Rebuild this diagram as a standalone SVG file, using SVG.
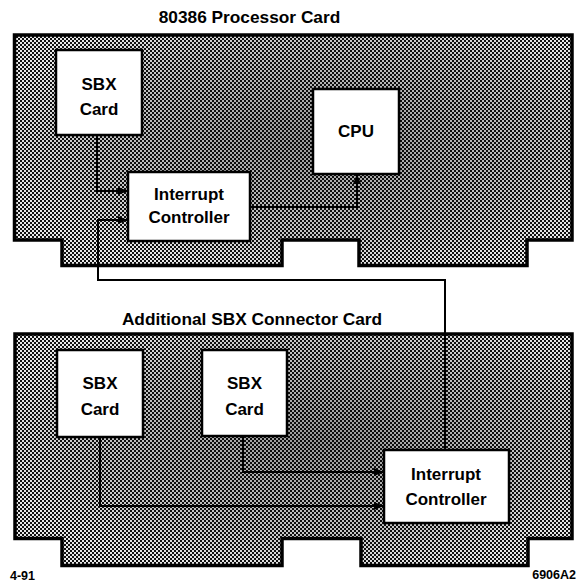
<svg xmlns="http://www.w3.org/2000/svg" width="577" height="582" viewBox="0 0 577 582">
  <style>
    .label { font-family: "Liberation Sans", Arial, sans-serif; font-weight: bold; font-size: 17px; fill: #000; text-anchor: middle; }
    .title { font-family: "Liberation Sans", Arial, sans-serif; font-weight: bold; font-size: 17.3px; fill: #000; text-anchor: middle; }
    .note { font-family: "Liberation Sans", Arial, sans-serif; font-weight: bold; font-size: 12.5px; fill: #000; }
    .board { stroke: #000; stroke-width: 3.5; stroke-linejoin: miter; }
    .box { fill: #fff; stroke: #000; stroke-width: 2.5; }
    .wire { fill: none; stroke: #000; stroke-width: 2; }
    .arrow { marker-end: url(#head); }
  </style>
  <defs>
    <!-- halftone screen used on the circuit boards -->
    <pattern id="dots" width="4" height="4" patternUnits="userSpaceOnUse">
      <rect width="4" height="4" fill="#e8e8e8"/>
      <rect width="2" height="2" fill="#111"/>
      <rect x="2" y="2" width="2" height="2" fill="#111"/>
    </pattern>
    <radialGradient id="shade" cx="0.55" cy="0.45" r="0.6">
      <stop offset="0" stop-color="#000" stop-opacity="0.35"/>
      <stop offset="0.7" stop-color="#000" stop-opacity="0.15"/>
      <stop offset="1" stop-color="#000" stop-opacity="0"/>
    </radialGradient>
    <marker id="head" viewBox="0 0 10 8" refX="10" refY="4" markerWidth="5" markerHeight="4" orient="auto" markerUnits="strokeWidth">
      <path d="M0,0 L10,4 L0,8 Z" fill="#000"/>
    </marker>
  </defs>

  <rect width="577" height="582" fill="#fff"/>

  <!-- 80386 processor board -->
  <g id="processor-card">
    <path class="board" fill="url(#dots)" d="M14.5,35 H572 V240 H527 V265.5 H359 V240 H282 V265.5 H62 V240 H14.5 Z"/>
    <path fill="url(#shade)" d="M16,37 H570 V238 H525 V263 H361 V238 H280 V263 H64 V238 H16 Z"/>
    <text class="title" x="249.5" y="23">80386 Processor Card</text>
  </g>

  <!-- expansion board -->
  <g id="connector-card">
    <path class="board" fill="url(#dots)" d="M15,334 H572 V538.5 H528 V565.5 H361 V538.5 H282 V565.5 H62 V538.5 H15 Z"/>
    <path fill="url(#shade)" d="M17,336 H570 V536.5 H526 V563.5 H363 V536.5 H280 V563.5 H64 V536.5 H17 Z"/>
    <text class="title" x="252" y="325">Additional SBX Connector Card</text>
  </g>

  <g id="connectors">
    <!-- top board -->
    <path class="wire arrow" d="M97,135 V191 H128"/>
    <path class="wire arrow" d="M250,207 H357 V174"/>
    <path class="wire arrow" d="M445,450 V280 H98 V220 H128"/>
    <!-- bottom board -->
    <path class="wire arrow" d="M243,436 V472 H384"/>
    <path class="wire arrow" d="M100,437 V506 H384"/>
  </g>

  <g id="sbx-top">
    <rect class="box" x="56" y="50" width="86" height="85"/>
    <text class="label" x="99" y="90">SBX</text>
    <text class="label" x="99" y="115">Card</text>
  </g>

  <g id="cpu">
    <rect class="box" x="313" y="89" width="86" height="85"/>
    <text class="label" x="356" y="137">CPU</text>
  </g>

  <g id="interrupt-top">
    <rect class="box" x="128" y="172" width="122" height="69"/>
    <text class="label" x="189" y="200">Interrupt</text>
    <text class="label" x="189" y="223">Controller</text>
  </g>

  <g id="sbx-bottom-1">
    <rect class="box" x="57" y="350" width="86" height="87"/>
    <text class="label" x="100" y="389">SBX</text>
    <text class="label" x="100" y="415">Card</text>
  </g>

  <g id="sbx-bottom-2">
    <rect class="box" x="202" y="350" width="85" height="86"/>
    <text class="label" x="244.5" y="389">SBX</text>
    <text class="label" x="244.5" y="415">Card</text>
  </g>

  <g id="interrupt-bottom">
    <rect class="box" x="384" y="450" width="125" height="73"/>
    <text class="label" x="446" y="480">Interrupt</text>
    <text class="label" x="446" y="505">Controller</text>
  </g>

  <text class="note" x="10" y="580">4-91</text>
  <text class="note" x="576" y="579" text-anchor="end">6906A2</text>
</svg>
